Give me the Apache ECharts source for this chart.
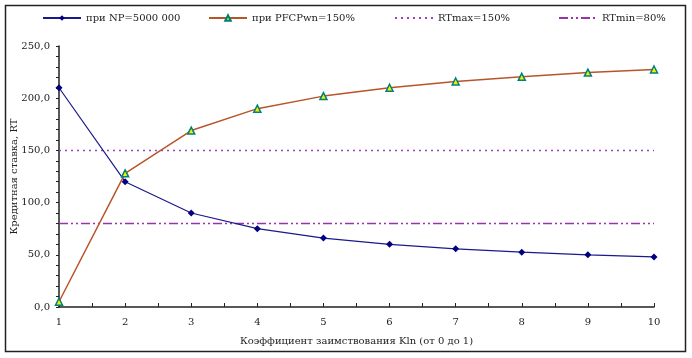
<!DOCTYPE html>
<html><head><meta charset="utf-8">
<script src="https://cdn.jsdelivr.net/npm/echarts@6/dist/echarts.min.js"></script>
<style>html,body{margin:0;padding:0;background:#fff}#c{width:692px;height:358px}</style>
</head><body><div id="c"></div>
<script>
const xValues = [1,2,3,4,5,6,7,8,9,10];
const npValues = [210,120,90,75,66,60,55.7,52.5,50,48];
const pfcpValues = [5,128,169,190,202,210,216,220.5,224.5,227.5];
const rtMaxValues = [150,150,150,150,150,150,150,150,150,150];
const rtMinValues = [80,80,80,80,80,80,80,80,80,80];
const seriesNames = ['при NP=5000 000','при PFCPwn=150%','RTmax=150%','RTmin=80%'];
const yTitle = 'Кредитная ставка, RT';
const xTitle = 'Коэффициент заимствования Kln (от 0 до 1)';

const pair = v => v.map((y,i)=>[xValues[i], y]);
const font = 'DejaVu Serif';
const txt = {fontFamily: font, fontSize: 10, color: '#222'};
const chart = echarts.init(document.getElementById('c'), null, {renderer:'canvas'});
const legendPos = [42, 208, 394, 558];
chart.setOption({
  animation: false,
  textStyle: {fontFamily: font},
  graphic: [{type:'rect', shape:{x:5.5,y:5.5,width:680,height:346}, style:{fill:'none', stroke:'#222', lineWidth:1.5}, silent:true}],
  legend: seriesNames.map((n,i)=>({data:[i>=2 ? {name:n, itemStyle:{opacity:0}} : n], left: legendPos[i], top: 13, itemWidth: 38, itemHeight: 7, itemGap: 4, textStyle: txt, padding: 0})),
  grid: {left: 59, right: 38, top: 46, bottom: 51, containLabel: false, outerBoundsMode: 'none'},
  xAxis: {
    type: 'value', min: 1, max: 10, interval: 1,
    name: xTitle, nameLocation: 'middle', nameGap: 29, nameMoveOverlap: false, nameTextStyle: txt,
    axisLine: {lineStyle: {color: '#222', width: 1.5}},
    axisTick: {inside: true, length: 4, lineStyle: {color:'#222'}},
    minorTick: {show: true, splitNumber: 2, length: 4, lineStyle: {color:'#222'}},
    axisLabel: Object.assign({margin: 10}, txt),
    splitLine: {show: false}
  },
  yAxis: {
    type: 'value', min: 0, max: 250, interval: 50,
    name: yTitle, nameLocation: 'middle', nameGap: 40, nameMoveOverlap: false, nameRotate: 90, nameTextStyle: txt,
    axisLine: {show: true, lineStyle: {color: '#222', width: 1.5}},
    axisTick: {show: true, length: 3, lineStyle: {color:'#222'}},
    minorTick: {show: true, splitNumber: 5, length: 3, lineStyle: {color:'#222'}},
    axisLabel: Object.assign({margin: 9, formatter: v => v.toFixed(1).replace('.', ',')}, txt),
    splitLine: {show: false}
  },
  series: [
    {name: seriesNames[2], type: 'line', data: pair(rtMaxValues), symbol: 'none', lineStyle: {color: '#a040c0', width: 1.5, type: [2,4]}, itemStyle:{color:'#a040c0'}},
    {name: seriesNames[3], type: 'line', data: pair(rtMinValues), symbol: 'none', lineStyle: {color: '#9933aa', width: 1.5, type: [9,3,2,3,2,3]}, itemStyle:{color:'#9933aa'}},
    {name: seriesNames[0], type: 'line', data: pair(npValues), symbol: 'diamond', symbolSize: 7, lineStyle: {color: '#1a1a8c', width: 1.2}, itemStyle: {color: '#000080'}},
    {name: seriesNames[1], type: 'line', data: pair(pfcpValues), symbol: 'triangle', symbolSize: 7, lineStyle: {color: '#b8542a', width: 1.5}, itemStyle: {color: '#f0f000', borderColor: '#00807a', borderWidth: 1.5}}
  ]
});
</script></body></html>
